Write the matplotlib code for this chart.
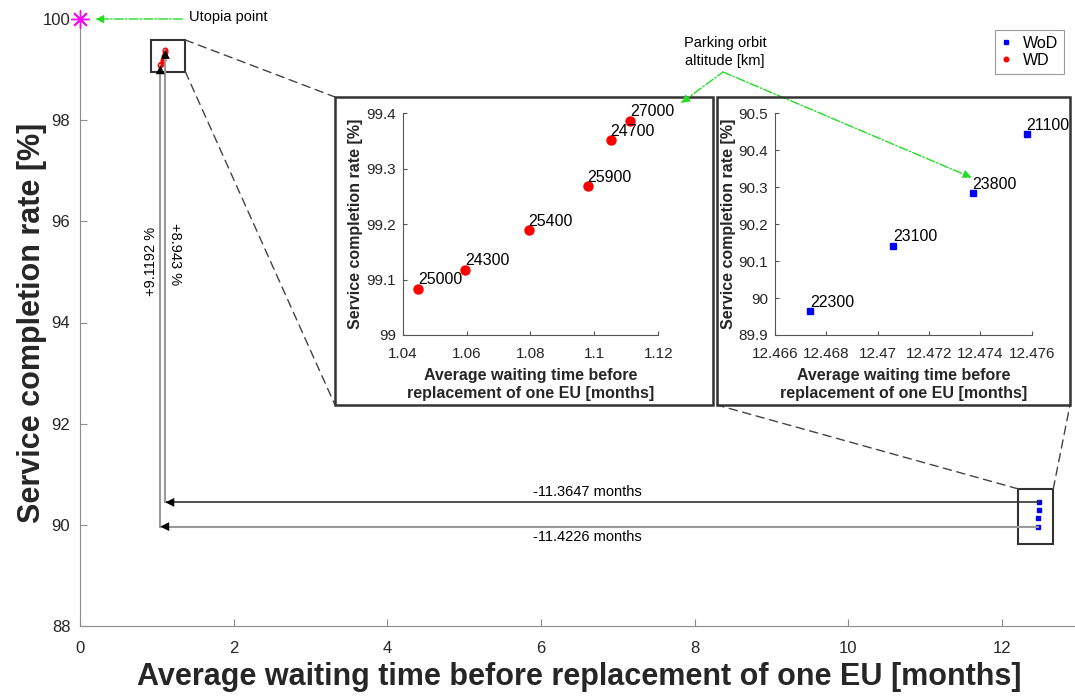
import numpy as np
import matplotlib
matplotlib.use('Agg')
import matplotlib.pyplot as plt
from matplotlib.patches import Rectangle, ConnectionPatch

plt.rcParams['font.family'] = ['Liberation Sans', 'DejaVu Sans']

# parking orbit altitudes [km] and results
wd_alt = [25000, 24300, 25400, 25900, 24700, 27000]
wd_wait = [1.04476, 1.0595, 1.0794, 1.0979, 1.1051, 1.1111]
wd_rate = [99.0836, 99.118, 99.190, 99.269, 99.351, 99.387]

wod_alt = [22300, 23100, 23800, 21100]
wod_wait = [12.46736, 12.4706, 12.4737, 12.4758]
wod_rate = [89.9644, 90.142, 90.285, 90.444]

xlab = 'Average waiting time before replacement of one EU [months]'
ylab = 'Service completion rate [%]'
W, H = 1075, 696
axcol = '#262626'


def fpx(x, y):
    # pixel position (from top-left) -> figure fraction
    return (x / W, 1 - y / H)


def num(v):
    return f'{round(v, 4):g}'


fig = plt.figure(figsize=(W / 100, H / 100), dpi=100)
ax = fig.add_axes([80 / W, 1 - 626 / H, 999 / W, 607 / H])
ax.plot(wod_wait, wod_rate, 's', color='blue', ms=3.3, label='WoD')
ax.plot(wd_wait, wd_rate, 'o', color='red', ms=3.3, label='WD')
ax.plot(0, 100, marker=(8, 2, 0), color='magenta', ms=13, mew=1,
        ls='none', clip_on=False, zorder=5)
ax.set_xlim(0, 13)
ax.set_ylim(88, 100)
ax.set_xticks(np.arange(0, 13, 2))
ax.set_yticks(np.arange(88, 101, 2))
for s in ['top', 'right']:
    ax.spines[s].set_visible(False)
for s in ['left', 'bottom']:
    ax.spines[s].set_color('#8c8c8c')
ax.tick_params(direction='in', labelsize=12, colors='#8c8c8c',
               labelcolor=axcol, length=5)
ax.tick_params(axis='x', pad=11)
ax.tick_params(axis='y', pad=7)
ax.set_xlabel(xlab, fontsize=22, fontweight='bold', color=axcol, labelpad=4)
ax.set_ylabel(ylab, fontsize=22, fontweight='bold', color=axcol, labelpad=-3)
leg = ax.legend(loc='upper right', bbox_to_anchor=(984 / 999, (626 - 30) / 607),
                borderaxespad=0, fontsize=11.5, handlelength=0.7,
                handletextpad=0.7, borderpad=0.35, labelspacing=0.15,
                fancybox=False, framealpha=1)
leg.get_frame().set_edgecolor('#9a9a9a')
leg.get_frame().set_linewidth(0.8)

# gap arrows between the two configurations
i0, j0 = 0, 0      # 22300 -> 25000
i1, j1 = 3, 5      # 21100 -> 27000
ax.plot([wod_wait[i0], wd_wait[j0]], [wod_rate[i0]] * 2, color='#9a9a9a', lw=1.5)
ax.plot([wd_wait[j0]] * 2, [wod_rate[i0], wd_rate[j0]], color='#9a9a9a', lw=1.5)
ax.plot([wod_wait[i1], wd_wait[j1]], [wod_rate[i1]] * 2, color='#333333', lw=1.2)
ax.plot([wd_wait[j1]] * 2, [wod_rate[i1], wd_rate[j1]], color='#9a9a9a', lw=1.5)
head = dict(arrowstyle='-|>', color='black', lw=0, mutation_scale=16,
            shrinkA=0, shrinkB=0)
for (x0, y0, x1, y1) in [
        (wd_wait[j0] + 0.3, wod_rate[i0], wd_wait[j0], wod_rate[i0]),
        (wd_wait[j1] + 0.3, wod_rate[i1], wd_wait[j1], wod_rate[i1]),
        (wd_wait[j0], wd_rate[j0] - 0.4, wd_wait[j0], wd_rate[j0]),
        (wd_wait[j1], wd_rate[j1] - 0.4, wd_wait[j1], wd_rate[j1])]:
    ax.annotate('', xy=(x1, y1), xytext=(x0, y0), arrowprops=head)

dx0 = wod_wait[i0] - wd_wait[j0]
dx1 = wod_wait[i1] - wd_wait[j1]
dy0 = wd_rate[j0] - wod_rate[i0]
dy1 = wd_rate[j1] - wod_rate[i1]
xm = (wd_wait[j0] + wod_wait[i0]) / 2 - 0.15
ax.text(xm, wod_rate[i1] + 0.07, f'-{num(dx1)} months', ha='center',
        va='bottom', fontsize=10.5)
ax.text(xm, wod_rate[i0] - 0.07, f'-{num(dx0)} months', ha='center', va='top',
        fontsize=10.5)
ax.text(wd_wait[j0] - 0.12, 95.2, f'+{num(dy0)} %', rotation=90, ha='center',
        va='center', fontsize=10.5)
ax.text(wd_wait[j1] + 0.12, 95.35, f'+{num(dy1)} %', rotation=-90, ha='center',
        va='center', fontsize=10.5)

# utopia point label
ax.annotate('', xy=(0.2, 100), xytext=(1.33, 100),
            arrowprops=dict(arrowstyle='-|>', color='#22dd22', lw=1,
                            ls='-.', mutation_scale=12, shrinkA=0, shrinkB=0))
ax.text(1.42, 100.03, 'Utopia point', va='center', ha='left', fontsize=10.5)

# zoom windows on the main axes
zooms = [((0.92, 98.96), 0.45, 0.625), ((12.21, 89.63), 0.455, 1.08)]
for (x, y), w, h in zooms:
    ax.add_patch(Rectangle((x, y), w, h, fill=False, ec='#333333', lw=1.5))

# inset frames
frames = [(335, 97, 713, 405), (717, 97, 1070, 405)]
for (l, t, r, b) in frames:
    fig.add_artist(Rectangle(fpx(l, b), (r - l) / W, (b - t) / H, fill=False,
                             ec='#333333', lw=1.8, transform=fig.transFigure,
                             zorder=5))

dash = dict(color='#444444', lw=1, ls=(0, (6, 4)))
(x, y), w, h = zooms[0]
l, t, r, b = frames[0]
for pa, pb in [((x + w, y + h), fpx(l, t)), ((x + w, y), fpx(l, b))]:
    fig.add_artist(ConnectionPatch(pa, pb, coordsA=ax.transData,
                                   coordsB=fig.transFigure, **dash))
(x, y), w, h = zooms[1]
l, t, r, b = frames[1]
for pa, pb in [((x, y + h), fpx(l, b)), ((x + w, y + h), fpx(r, b))]:
    fig.add_artist(ConnectionPatch(pa, pb, coordsA=ax.transData,
                                   coordsB=fig.transFigure, **dash))


def inset(rect, xs, ys, alts, marker, color, ms, xticks, yticks, xlim, ylim):
    a = fig.add_axes(rect, zorder=4)
    a.plot(xs, ys, marker, color=color, ms=ms, ls='none')
    for xv, yv, lab in zip(xs, ys, alts):
        a.annotate(str(lab), (xv, yv), xytext=(0, 3), textcoords='offset points',
                   fontsize=11.5, annotation_clip=False)
    a.set_xlim(*xlim)
    a.set_ylim(*ylim)
    a.set_xticks(xticks)
    a.set_xticklabels([f'{v:g}' for v in xticks])
    a.set_yticks(yticks)
    a.set_yticklabels([f'{v:g}' for v in yticks])
    for s in ['top', 'right']:
        a.spines[s].set_visible(False)
    for s in ['left', 'bottom']:
        a.spines[s].set_color('#555555')
    a.tick_params(direction='in', labelsize=11, colors='#555555',
                  labelcolor=axcol, length=3)
    a.tick_params(axis='x', pad=9)
    a.tick_params(axis='y', pad=5)
    a.set_xlabel('Average waiting time before\nreplacement of one EU [months]',
                 fontsize=11.5, fontweight='bold', color=axcol, labelpad=5,
                 linespacing=1.25)
    a.set_ylabel(ylab, fontsize=11.5, fontweight='bold', color=axcol, labelpad=2)
    return a


ax1 = inset([402.7 / W, 1 - 335 / H, 255.6 / W, 221.7 / H], wd_wait, wd_rate,
            wd_alt, 'o', 'red', 6.5, [1.04, 1.06, 1.08, 1.1, 1.12],
            [99, 99.1, 99.2, 99.3, 99.4], (1.04, 1.12), (99, 99.4))
ax2 = inset([775 / W, 1 - 335 / H, 256.7 / W, 221.7 / H], wod_wait, wod_rate,
            wod_alt, 's', 'blue', 5,
            [12.466, 12.468, 12.47, 12.472, 12.474, 12.476],
            [89.9, 90, 90.1, 90.2, 90.3, 90.4, 90.5], (12.466, 12.476),
            (89.9, 90.5))

# parking orbit altitude label
fig.text(*fpx(725, 52), 'Parking orbit\naltitude [km]', ha='center', va='center',
         fontsize=10.5, linespacing=1.3, zorder=6)
green = dict(arrowstyle='-|>', color='#22dd22', lw=1, ls='-.', mutation_scale=12,
             shrinkA=0, shrinkB=0)
fig.add_artist(ConnectionPatch(fpx(681, 103), fpx(723, 72),
                               coordsA=fig.transFigure, coordsB=fig.transFigure,
                               zorder=6, arrowstyle='<|-', color='#22dd22', lw=1,
                               ls='-.', mutation_scale=12))
ax2.annotate('', xy=(12.47366, 90.326), xycoords='data',
             xytext=fpx(723, 72), textcoords='figure fraction',
             arrowprops=green, zorder=6, annotation_clip=False)

fig.savefig('out.png', dpi=100)
